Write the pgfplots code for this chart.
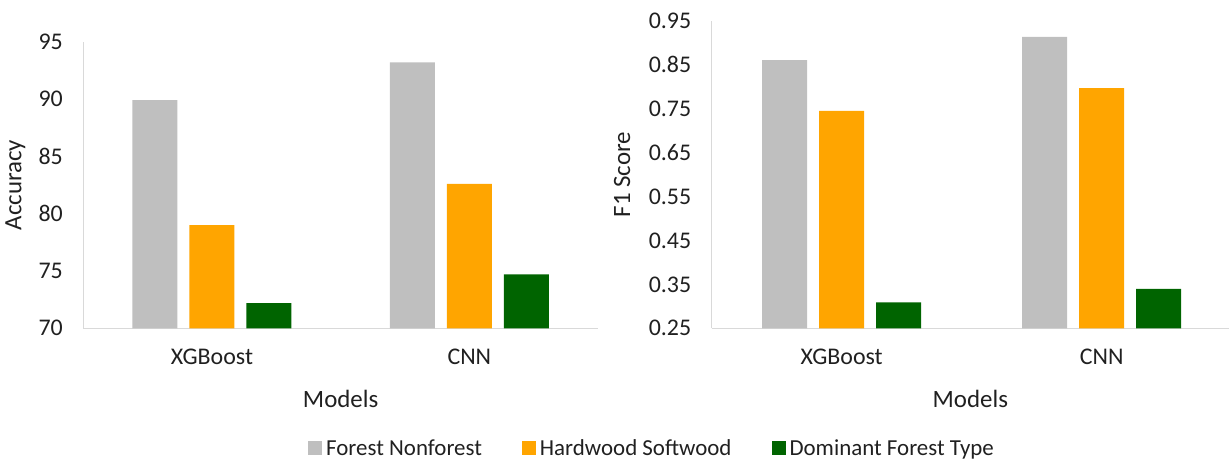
\documentclass[border=0pt]{standalone}
\usepackage{pgfplots}
\pgfplotsset{compat=1.18}
\usepackage{fontspec}
\setmainfont{Carlito}

\definecolor{fnf}{HTML}{BFBFBF}
\definecolor{hws}{HTML}{FFA500}
\definecolor{dft}{HTML}{006400}
\definecolor{axgray}{HTML}{D9D9D9}
\definecolor{txt}{HTML}{202020}

\pgfplotsset{
  sq legend/.style={legend image code/.code={\fill[##1] (0bp,-7bp) rectangle (14bp,7bp);}},
  excelbars/.style={
    scale only axis,
    anchor=south west,
    ybar=12bp, bar width=45bp,
    xmin=-0.5,
    xtick={0,1}, xticklabels={XGBoost,CNN},
    axis x line*=bottom, axis y line*=left,
    axis line style={axgray, line width=1.2bp, -},
    major tick length=0pt,
    clip=true,
    tick label style={font=\fontsize{24}{28}\selectfont, text=txt},
    yticklabel style={xshift=-17bp},
    xticklabel style={yshift=-17bp},
    every axis y label/.style={rotate=90, anchor=center, font=\fontsize{25}{29}\selectfont, text=txt},
    every axis x label/.style={anchor=center, font=\fontsize{25}{29}\selectfont, text=txt},
    xlabel={Models},
  },
}

\begin{document}
\begin{tikzpicture}
\useasboundingbox (0,0) rectangle (1229bp,459bp);

% Accuracy
\begin{axis}[excelbars,
  at={(83.3bp,130.7bp)},
  width=514.7bp, height=286.6bp,
  xmax=1.5,
  ymin=70, ymax=95,
  ytick={70,75,80,85,90,95},
  yticklabels={70,75,80,85,90,95},
  ylabel={Accuracy},
  ylabel style={at={(axis description cs:-0.132,0.5)}},
  xlabel style={at={(axis description cs:0.5,-0.248)}},
  legend columns=3,
  legend style={at={(axis description cs:1.105,-0.4177)}, anchor=center,
    draw=none, fill=none, font=\fontsize{23}{27}\selectfont, text=txt,
    /tikz/every even column/.append style={column sep=38bp},
    /tikz/every odd column/.append style={column sep=2bp}},
]
\addplot[fill=fnf, draw=none, sq legend] coordinates {(0,89.9) (1,93.2)};
\addplot[fill=hws, draw=none, sq legend] coordinates {(0,79.0) (1,82.6)};
\addplot[fill=dft, draw=none, sq legend] coordinates {(0,72.2) (1,74.7)};
\legend{Forest Nonforest, Hardwood Softwood, Dominant Forest Type}
\end{axis}

% F1 score
\begin{axis}[excelbars,
  at={(711.7bp,130.7bp)},
  width=517.3bp, height=307.3bp,
  xmax=1.49,
  ymin=0.25, ymax=0.95,
  ytick={0.25,0.35,0.45,0.55,0.65,0.75,0.85,0.95},
  yticklabels={0.25,0.35,0.45,0.55,0.65,0.75,0.85,0.95},
  ylabel={F1 Score},
  ylabel style={at={(axis description cs:-0.173,0.5)}},
  xlabel style={at={(axis description cs:0.5,-0.231)}},
]
\addplot[fill=fnf, draw=none] coordinates {(0,0.861) (1,0.914)};
\addplot[fill=hws, draw=none] coordinates {(0,0.745) (1,0.797)};
\addplot[fill=dft, draw=none] coordinates {(0,0.309) (1,0.340)};
\end{axis}
\end{tikzpicture}
\end{document}
